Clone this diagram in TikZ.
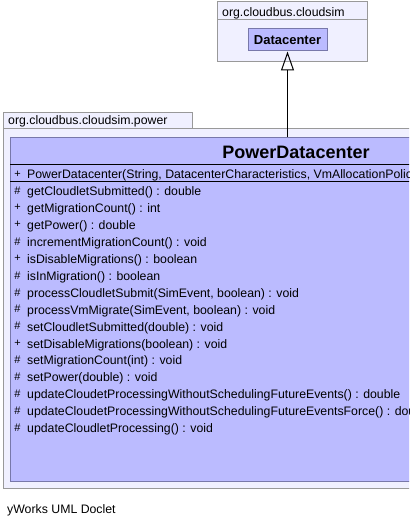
\documentclass[tikz,border=0pt]{standalone}
\usepackage{fontspec}
\setmainfont{Liberation Sans}
\usetikzlibrary{arrows.meta}
\usetikzlibrary{positioning}
\definecolor{pkgfill}{RGB}{240,240,255}
\definecolor{pkgline}{RGB}{153,153,153}
\definecolor{clsfill}{RGB}{187,187,255}
\definecolor{clsline}{RGB}{120,120,170}
\tikzset{
  pkgbox/.style={draw=pkgline, fill=pkgfill, line width=1pt},
  clsbox/.style={draw=clsline, fill=clsfill, line width=1pt, inner sep=0pt},
  umltext/.style={inner sep=0pt, anchor=base west, font=\fontsize{12.3}{14}\selectfont},
  vis/.style={inner sep=0pt, font=\fontsize{11}{13}\selectfont}
}
\begin{document}
\begin{tikzpicture}[x=1pt, y=-1pt]
  \useasboundingbox (0,0) rectangle (409,526);
  \clip (0,0) rectangle (409,526);

  % package org.cloudbus.cloudsim
  \draw [pkgbox] (217,2) rectangle (367,62);
  \draw [pkgline, line width=1pt] (217,20) -- (367,20);
  \node [umltext] (simname) at (222,17) {org.cloudbus.cloudsim};
  \node [clsbox, minimum width=79pt, minimum height=22pt,
         font=\bfseries\fontsize{13}{15}\selectfont] (dc) at (287.5,40) {Datacenter};

  % package org.cloudbus.cloudsim.power
  \draw [pkgbox] (3,113) rectangle (192,129);
  \draw [pkgbox] (3,129) rectangle (430,488);
  \node [umltext] (powname) at (8,125) {org.cloudbus.cloudsim.power};

  % class PowerDatacenter
  \node [clsbox, anchor=north west, minimum width=420pt, minimum height=344pt] (pd) at (10,137) {};
  \node [font=\bfseries\fontsize{18}{21}\selectfont, inner sep=0pt] (pdname) at (296,152) {PowerDatacenter};
  \draw [line width=1pt] (10,165) -- (430,165);
  \draw [line width=1pt] (10,182) -- (430,182);

  \foreach \m/\s [count=\i from 0] in {
      +/{PowerDatacenter(String, DatacenterCharacteristics, VmAllocationPolicy},
      \#/{getCloudletSubmitted() : double},
      +/{getMigrationCount() : int},
      +/{getPower() : double},
      \#/{incrementMigrationCount() : void},
      +/{isDisableMigrations() : boolean},
      \#/{isInMigration() : boolean},
      \#/{processCloudletSubmit(SimEvent, boolean) : void},
      \#/{processVmMigrate(SimEvent, boolean) : void},
      \#/{setCloudletSubmitted(double) : void},
      +/{setDisableMigrations(boolean) : void},
      \#/{setMigrationCount(int) : void},
      \#/{setPower(double) : void},
      \#/{updateCloudetProcessingWithoutSchedulingFutureEvents() : double},
      \#/{updateCloudetProcessingWithoutSchedulingFutureEventsForce() : double},
      \#/{updateCloudletProcessing() : void}} {
    \node [vis] (vis\i) at (17.5,174+\i*16.9) {\m};
    \node [umltext] (row\i) at (27,179+\i*16.9) {\s};
  }

  % inheritance
  \draw [-{Triangle[open, length=19pt, width=13pt]}, line width=1pt] (dc.south |- pd.north) -- (dc.south);

  \node [umltext] (doclet) at (7,513) {yWorks UML Doclet};
\end{tikzpicture}
\end{document}
